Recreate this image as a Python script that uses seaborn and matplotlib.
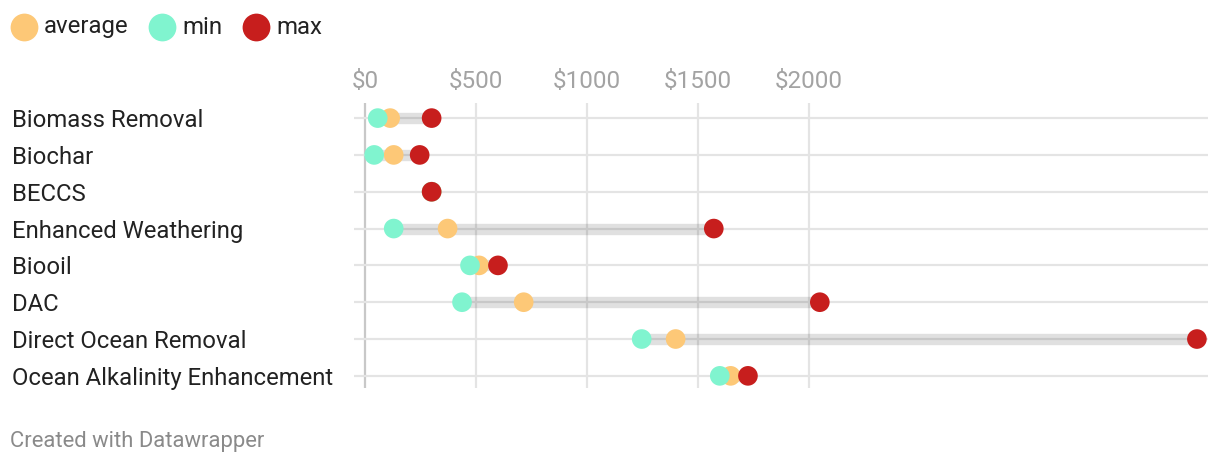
import matplotlib
matplotlib.use("Agg")
import matplotlib.pyplot as plt
from matplotlib.lines import Line2D
import seaborn as sns
import pandas as pd

categories = ["Biomass Removal", "Biochar", "BECCS", "Enhanced Weathering", "Biooil",
              "DAC", "Direct Ocean Removal", "Ocean Alkalinity Enhancement"]
avg_vals = [113, 129, 300, 372, 514, 715, 1400, 1648]
min_vals = [57, 41, 300, 129, 473, 437, 1247, 1599]
max_vals = [300, 246, 300, 1572, 599, 2050, 3750, 1726]
tick_vals = [0, 500, 1000, 1500, 2000]
tick_labels = ["$0", "$500", "$1000", "$1500", "$2000"]
series_names = ["average", "min", "max"]
colors = {"average": "#fdc877", "min": "#80f4cf", "max": "#c71e1d"}

sns.set_style("white")
plt.rcParams["font.family"] = ["Roboto", "DejaVu Sans"]

W, H = 1220, 468
fig = plt.figure(figsize=(W / 100, H / 100), dpi=100)
ax_l, ax_r, ax_t, ax_b = 354, 1208, 103, 388
ax = fig.add_axes([ax_l / W, 1 - ax_b / H, (ax_r - ax_l) / W, (ax_b - ax_t) / H])

long = pd.concat([
    pd.DataFrame({"category": categories, "value": avg_vals, "stat": "average"}),
    pd.DataFrame({"category": categories, "value": min_vals, "stat": "min"}),
    pd.DataFrame({"category": categories, "value": max_vals, "stat": "max"}),
], ignore_index=True)

ypos = {c: i for i, c in enumerate(categories)}
# range bars
ax.hlines([ypos[c] for c in categories], min_vals, max_vals, colors="black",
          alpha=0.12, linewidth=8.2, zorder=2, capstyle="butt")

sns.scatterplot(data=long, x="value", y="category", hue="stat", palette=colors,
                s=200, linewidth=0, legend=False, ax=ax, zorder=3)

ax.set_xlim(-50, 3800)
ax.set_ylim(7.33, -0.41)
ax.set_xticks(tick_vals)
ax.set_xticklabels(tick_labels)
ax.set_yticks(range(len(categories)))
ax.set_yticklabels(categories)
ax.set_xlabel("")
ax.set_ylabel("")
for s in ax.spines.values():
    s.set_visible(False)

ax.xaxis.tick_top()
ax.tick_params(axis="x", length=0, pad=7, labelsize=17.5, labelcolor="#a3a3a3")
ax.tick_params(axis="y", length=0, pad=246, labelsize=17.2, labelcolor="#222222")
for lab in ax.get_yticklabels():
    lab.set_horizontalalignment("left")

ax.grid(True, axis="both", color="#e4e4e4", linewidth=1.6, zorder=0)
ax.set_axisbelow(True)
ax.get_xgridlines()[0].set_color("#c8c8c8")

# legend
leg_items = [(24, "average"), (162, "min"), (256, "max")]
for x, name in leg_items:
    fig.add_artist(Line2D([x / W], [1 - 27 / H], marker="o", markersize=20,
                          color=colors[name], linestyle="none",
                          markeredgewidth=0, transform=fig.transFigure))
    fig.text((x + 20) / W, 1 - 27 / H, name, fontsize=17.3, color="#222222",
             va="center", ha="left")

fig.text(10 / W, 1 - 442 / H, "Created with Datawrapper", fontsize=15.8,
         color="#8a8a8a", va="center", ha="left")

fig.savefig("out.png", dpi=100, facecolor="white")
